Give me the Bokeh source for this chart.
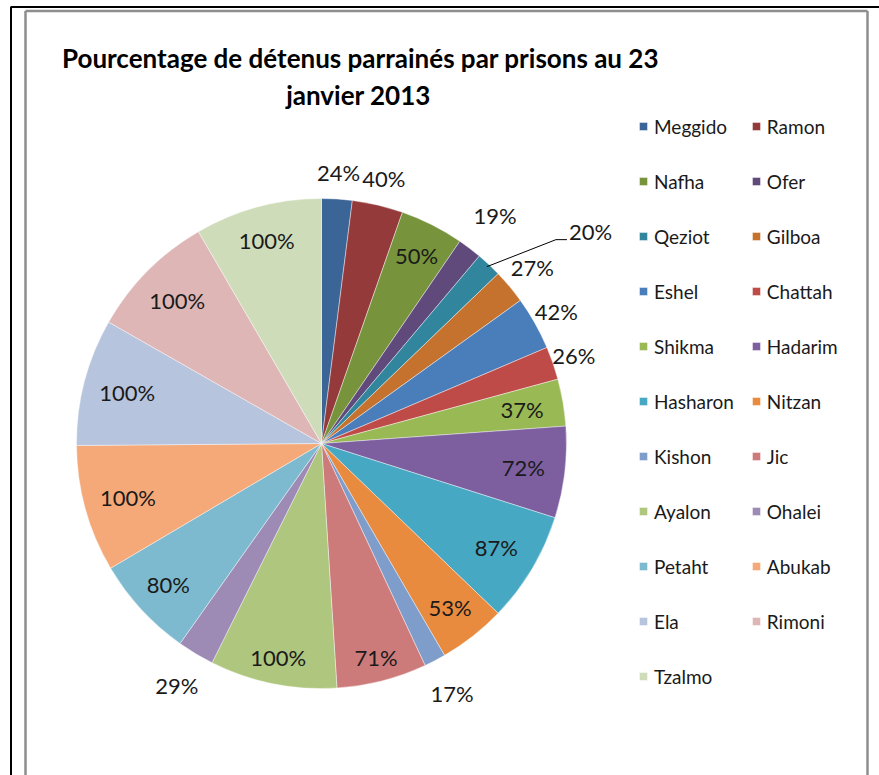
import numpy as np
from bokeh.plotting import figure
from bokeh.models import ColumnDataSource, Range1d, Label
from bokeh.core.properties import value
from bokeh.embed import file_html
from bokeh.resources import INLINE

# ---------------- data ----------------
prisons = ["Meggido", "Ramon", "Nafha", "Ofer", "Qeziot", "Gilboa", "Eshel",
           "Chattah", "Shikma", "Hadarim", "Hasharon", "Nitzan", "Kishon", "Jic",
           "Ayalon", "Ohalei", "Petaht", "Abukab", "Ela", "Rimoni", "Tzalmo"]
taux = [24, 40, 50, 19, 20, 27, 42, 26, 37, 72, 87, 53, 17, 71,
        100, 29, 80, 100, 100, 100, 100]
title_lines = ["Pourcentage de détenus parrainés par prisons au 23", "janvier 2013"]

# ---------------- styles ----------------
colors = ["#3C6597", "#953A3A", "#77933C", "#604A7B", "#31859C", "#C4722E",
          "#4A7EBB", "#BE4B48", "#98B954", "#7D5FA0", "#46A8C3", "#E98B3F",
          "#7F9DCB", "#CD7B7A", "#AEC67E", "#9D8AB5", "#7DBACF", "#F6A978",
          "#B7C4DD", "#DEB6B6", "#CFDCBA"]
# radial position of each data label (fraction of radius)
label_r = [1.11, 1.11, 0.86, 1.17, None, 1.12, 1.10, 1.09, 0.83, 0.83, 0.83,
           0.85, 1.15, 0.90, 0.89, 1.15, 0.85, 0.82, 0.82, 0.83, 0.86]
FONT = "Lato"
W, H = 879, 775
cx, cy, R = 321, 332, 245

p = figure(width=W, height=H, x_range=Range1d(0, W), y_range=Range1d(0, H),
           output_backend="svg", toolbar_location=None, min_border=0)
p.axis.visible = False
p.grid.visible = False
p.outline_line_color = None
p.background_fill_color = "white"
p.border_fill_color = "white"

# frame decorations
p.segment(x0=[10.5, 10], y0=[0, 768.5], x1=[10.5, W], y1=[768.5, 768.5],
          line_color="black", line_width=2)
p.segment(x0=[25, 25, 867], y0=[0, 764.5, 0], x1=[25, 867, 867], y1=[764.5, 764.5, 764.5],
          line_color="#8E8E8E", line_width=2.5)

vals = np.array(taux, dtype=float)
frac = vals / vals.sum()
cum_end = np.cumsum(frac) * 2 * np.pi
cum_start = cum_end - frac * 2 * np.pi
mid = (cum_start + cum_end) / 2

src = ColumnDataSource(dict(
    name=prisons, taux=taux, color=colors,
    start=np.pi / 2 - cum_end, end=np.pi / 2 - cum_start,
))
p.wedge(x=cx, y=cy, radius=R, start_angle="start", end_angle="end",
        fill_color="color", line_color="white", line_width=0.6, line_alpha=0.7,
        legend_field="name", source=src)

# data labels
texts = [f"{v}%" for v in taux]
lx, ly, lt = [], [], []
for i, t in enumerate(texts):
    if label_r[i] is None:
        continue
    lx.append(cx + label_r[i] * R * np.sin(mid[i]))
    ly.append(cy + label_r[i] * R * np.cos(mid[i]))
    lt.append(t)
p.text(x=lx, y=ly, text=lt, text_align="center", text_baseline="middle",
       text_font=value(FONT), text_font_size="22px", text_color="#1A1A1A")

# callout label (Qeziot)
k = prisons.index("Qeziot")
ex, ey = cx + R * np.sin(mid[k]), cy + R * np.cos(mid[k])
p.line(x=[ex - 2, ex + 67, ex + 78], y=[ey - 2, ey + 25, ey + 25],
       line_color="black", line_width=1)
p.text(x=[ex + 80], y=[ey + 33], text=[texts[k]], text_align="left",
       text_baseline="middle", text_font=value(FONT), text_font_size="22px",
       text_color="#1A1A1A")

# title
for j, (tx, ty) in enumerate(zip([360, 358], [718, 681])):
    p.add_layout(Label(x=tx, y=ty, text=title_lines[j], text_align="center",
                       text_baseline="middle", text_font=FONT,
                       text_font_size="26px", text_font_style="bold",
                       text_color="black"))

leg = p.legend[0]
leg.orientation = "horizontal"
leg.ncols = 2
leg.location = (638, 80)
leg.glyph_width = 10
leg.glyph_height = 10
leg.label_standoff = 6
leg.label_height = 38
leg.spacing = 17
leg.padding = 0
leg.margin = 0
leg.border_line_color = None
leg.background_fill_alpha = 0
leg.label_text_font = FONT
leg.label_text_font_size = "19px"
leg.label_text_color = "#1A1A1A"

open("out.html", "w").write(file_html(p, INLINE))
